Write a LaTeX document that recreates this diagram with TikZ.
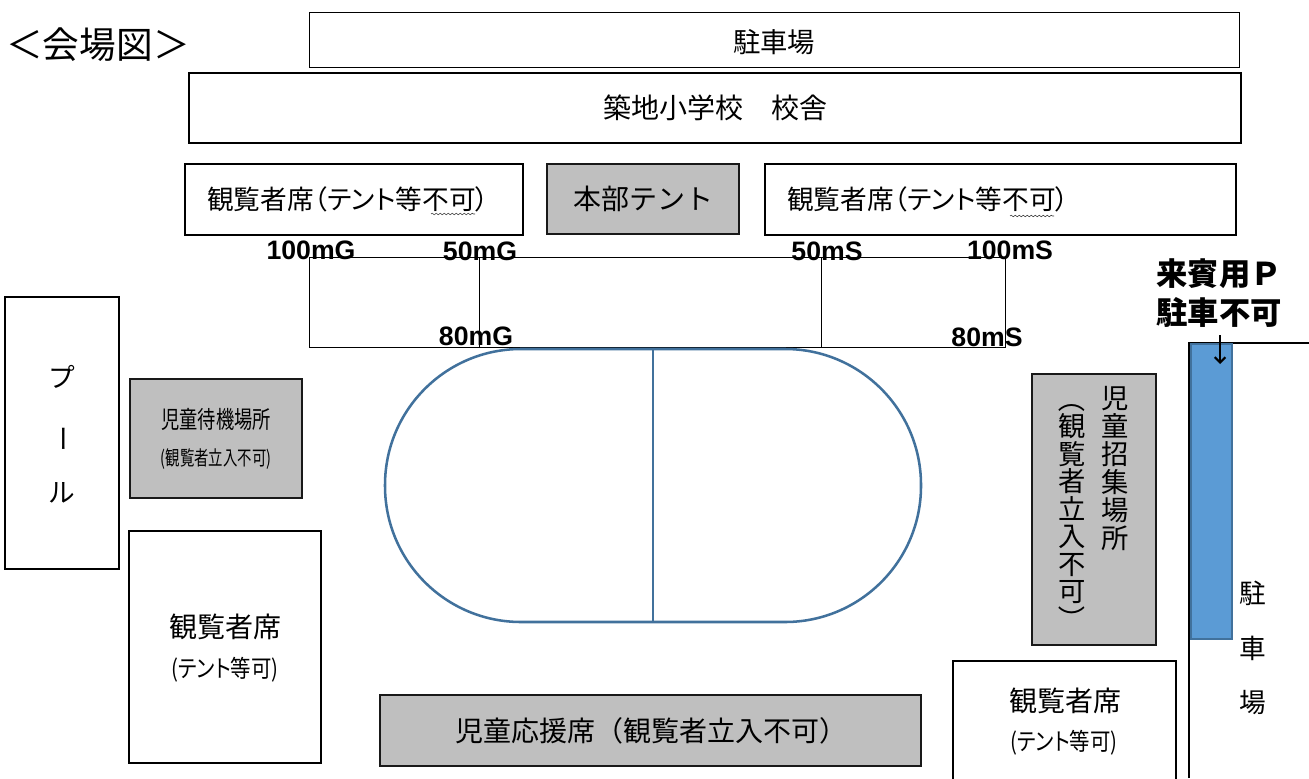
\documentclass[tikz,border=0pt]{standalone}
\usepackage{fontspec}
\setmainfont{Noto Sans CJK JP}
\newfontfamily\palt[RawFeature={+palt}]{Noto Sans CJK JP}
\newfontfamily\latinbold[BoldFont={Liberation Sans Bold}]{Liberation Sans}
\usetikzlibrary{decorations.pathmorphing, arrows.meta}
\definecolor{areagray}{HTML}{BFBFBF}
\definecolor{trackblue}{HTML}{41719C}
\definecolor{bandblue}{HTML}{5B9BD5}
\newcommand{\jp}[2]{\fontsize{#1}{#2}\selectfont}
\newcommand{\vbr}[1]{\rotatebox[origin=c]{-90}{#1}}
\tikzset{
  wd/.style={minimum width=#1*0.75pt},
  ht/.style={minimum height=#1*0.75pt},
  seatbox/.style={draw=black, line width=1.9pt, fill=white, inner sep=0pt, align=center, font=\jp{20}{28}},
  thinbox/.style={seatbox, line width=0.6pt},
  graybox/.style={seatbox, draw=black!90, fill=areagray},
  plain/.style={inner sep=0pt, align=center, font=\jp{21}{28}},
  dist/.style={inner sep=0pt, font=\latinbold\bfseries\fontsize{20}{20}\selectfont},
  wavy/.style={draw=black!80, line width=0.4pt, decorate, decoration={snake, amplitude=0.6pt, segment length=3pt}}
}
\begin{document}
\begin{tikzpicture}[x=0.75pt, y=-0.75pt]
    \useasboundingbox (0,0) rectangle (1309,778);
    \clip (0,0) rectangle (1309,778);

    % Title and buildings
    \node[plain, font=\jp{27.5}{30}] (title) at (98,45) {＜会場図＞};
    \node[thinbox, wd=930, ht=55] (parking) at (774,39.5) {};
    \node[plain, font=\jp{20.5}{28}] (parkingtxt) at (774,42) {駐車場};
    \node[seatbox, wd=1052, ht=70, font=\jp{21}{28}] (school) at (715,108) {築地小学校　校舎};

    % Front row
    \node[seatbox, wd=338, ht=71] (seatleft) at (354,199.5) {};
    \node[plain, anchor=west, font=\palt\jp{20}{26}] (seatlefttxt) at (207,199) {観覧者席（テント等不可）};
    \node[graybox, wd=192, ht=70, font=\jp{21}{28}] (tent) at (643,199) {本部テント};
    \node[seatbox, wd=471, ht=71] (seatright) at (1000.5,199.5) {};
    \node[plain, anchor=west, font=\palt\jp{20}{26}] (seatrighttxt) at (787,199) {観覧者席（テント等不可）};
    \coordinate (waveAa) at (431,214);
    \coordinate (waveAb) at (475,214);
    \coordinate (waveBa) at (1010,216);
    \coordinate (waveBb) at (1054,216);
    \draw[wavy] (waveAa) -- (waveAb);
    \draw[wavy] (waveBa) -- (waveBb);

    % Course
    \node[draw=black, line width=0.7pt, inner sep=0pt, wd=696, ht=90] (course) at (657,302) {};
    \coordinate (courseGt) at (479,257);
    \coordinate (courseGb) at (479,347);
    \coordinate (courseSt) at (821,257);
    \coordinate (courseSb) at (821,347);
    \draw[line width=0.7pt] (courseGt) -- (courseGb);
    \draw[line width=0.7pt] (courseSt) -- (courseSb);
    \foreach \x/\y/\dname/\dtext in {
      311/250/dA/100mG,
      480/251/dB/50mG,
      827/251/dC/50mS,
      1010/250/dD/100mS,
      476/336/dE/80mG,
      987/337/dF/80mS
    } {
      \node[dist] (\dname) at (\x,\y) {\dtext};
    }

    % Track
    \node[draw=trackblue, line width=1.9pt, rounded corners=102pt, inner sep=0pt, wd=536, ht=273] (track) at (653,485.5) {};
    \draw[trackblue, line width=1.9pt] (track.north) -- (track.south);

    % Left side
    \node[seatbox, wd=114, ht=272] (pool) at (62,433) {};
    \node[plain, font=\jp{20}{43}] (pooltxt) at (62,434) {プ\\\hspace*{-4.5pt}\vbr{ー}\\ル};
    \node[graybox, wd=172, ht=119] (waiting) at (216,438.5) {};
    \node[plain, font=\palt\jp{18}{24}] (waitingA) at (216,419) {\scalebox{0.76}[1]{児童待機場所}};
    \node[plain, font=\palt\jp{15}{20}] (waitingB) at (216,459) {\scalebox{0.72}[1]{(観覧者立入不可)}};
    \node[seatbox, wd=192, ht=232] (seatwest) at (225,647) {};
    \node[plain] (seatwestA) at (225,627) {観覧者席};
    \node[plain, font=\palt\jp{18}{24}] (seatwestB) at (225,670) {\scalebox{0.85}[1]{(テント等可)}};

    % Bottom
    \node[graybox, wd=541, ht=71] (cheer) at (650.5,730.5) {};
    \node[plain] (cheertxt) at (651,731) {児童応援席（観覧者立入不可）};
    \node[seatbox, wd=223, ht=140] (seateast) at (1064.5,731) {};
    \node[plain] (seateastA) at (1065,701) {観覧者席};
    \node[plain, font=\palt\jp{18}{24}] (seateastB) at (1064,743) {\scalebox{0.85}[1]{(テント等可)}};

    % Right side
    \node[graybox, wd=124, ht=271] (muster) at (1094,509.5) {};
    \node[plain, font=\jp{20.5}{21}] (musterA) at (1115,469) {児\\童\\招\\集\\場\\所};
    \node[plain, font=\jp{20.5}{20.6}] (musterB) at (1072,509) {\vbr{（}\\観\\覧\\者\\立\\入\\不\\可\\\vbr{）}};

    % Guest parking
    \coordinate (lotcorner) at (1189,343);
    \coordinate (lotbottom) at (1189,778);
    \coordinate (lotright) at (1309,343);
    \draw[line width=1.9pt] (lotbottom) -- (lotcorner) -- (lotright);
    \node[draw=trackblue, line width=1.6pt, fill=bandblue, inner sep=0pt, wd=41, ht=295] (guestband) at (1211.5,491.5) {};
    \node[plain, font=\bfseries\jp{23.5}{29.5}] (guestnote) at (1219,293) {来賓用Ｐ\\駐車不可};
    \coordinate (arrowtop) at (1220,335);
    \coordinate (arrowtip) at (1220,364);
    \draw[-{Straight Barb[length=4pt,width=8pt]}, line width=1.6pt] (arrowtop) -- (arrowtip);
    \node[plain, font=\jp{20}{41}] (lottxt) at (1253,648) {駐\\車\\場};
\end{tikzpicture}
\end{document}
